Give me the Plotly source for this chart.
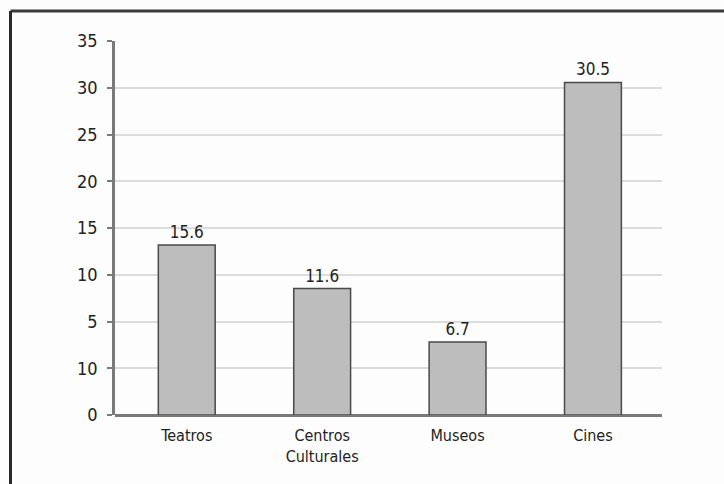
import plotly.graph_objects as go

# Asistencia por tipo de espacio cultural
categorias = ["Teatros", "Centros<br>Culturales", "Museos", "Cines"]
valores = [15.6, 11.6, 6.7, 30.5]
etiquetas_valor = ["15.6", "11.6", "6.7", "30.5"]

# Etiquetas del eje vertical, de abajo hacia arriba
etiquetas_eje_y = ["0", "10", "5", "10", "15", "20", "25", "30", "35"]

fuente = "Liberation Sans Narrow, DejaVu Sans Condensed, Arial Narrow, sans-serif"

y_max = 34.3
paso = y_max / (len(etiquetas_eje_y) - 1)
posiciones_y = [i * paso for i in range(len(etiquetas_eje_y))]

fig = go.Figure(
    go.Bar(
        x=list(range(len(categorias))),
        y=valores,
        text=etiquetas_valor,
        textposition="outside",
        textfont=dict(family=fuente, size=17, color="#222222"),
        cliponaxis=False,
        width=0.42,
        marker=dict(color="#bdbdbd", line=dict(color="#4a4a4a", width=1.5)),
    )
)

fig.update_xaxes(
    tickmode="array",
    tickvals=list(range(len(categorias))),
    ticktext=categorias,
    range=[-0.53, 3.51],
    showgrid=False,
    showline=False,
    zeroline=False,
    ticks="",
    ticklabelstandoff=9,
    tickfont=dict(family=fuente, size=16, color="#222222"),
)

fig.update_yaxes(
    tickmode="array",
    tickvals=posiciones_y,
    ticktext=etiquetas_eje_y,
    range=[0, y_max],
    showgrid=True,
    gridcolor="#dcdcdc",
    gridwidth=2,
    zeroline=True,
    zerolinecolor="#7a7a7a",
    zerolinewidth=2.5,
    showline=True,
    linecolor="#7a7a7a",
    linewidth=2.5,
    ticks="outside",
    ticklen=5,
    tickwidth=2,
    tickcolor="#7a7a7a",
    ticklabelstandoff=6,
    tickfont=dict(family=fuente, size=18, color="#222222"),
)

# Marco parcial (bordes superior e izquierdo)
L, R, T, B = 115, 62, 41, 69
ancho_plot = 724 - L - R
alto_plot = 484 - T - B


def px_x(px):
    return (px - L) / ancho_plot


def px_y(py):
    return (484 - B - py) / alto_plot


fig.add_shape(type="line", xref="paper", yref="paper",
              x0=px_x(10.5), x1=px_x(724), y0=px_y(11), y1=px_y(11),
              line=dict(color="#3a3a3a", width=3))
fig.add_shape(type="line", xref="paper", yref="paper",
              x0=px_x(10.5), x1=px_x(10.5), y0=px_y(11), y1=px_y(484),
              line=dict(color="#2a2a2a", width=3))

fig.update_layout(
    width=724,
    height=484,
    margin=dict(l=L, r=R, t=T, b=B),
    paper_bgcolor="#fdfdfd",
    plot_bgcolor="#fdfdfd",
    showlegend=False,
    bargap=0.58,
)

fig.write_html("out.html")
